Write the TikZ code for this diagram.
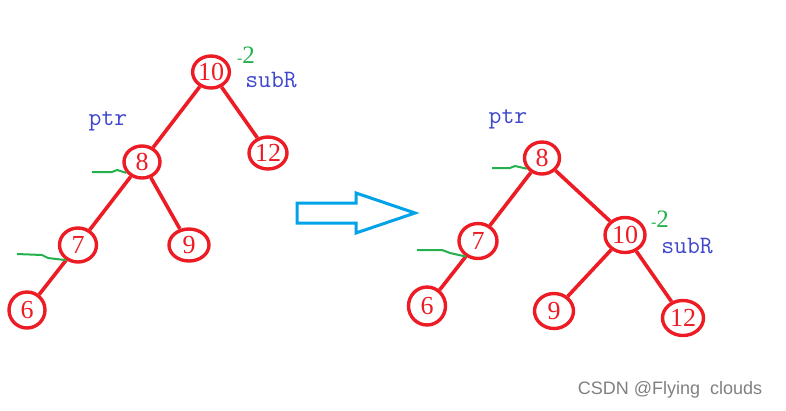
\documentclass[tikz,border=0pt]{standalone}
\usepackage{fontspec}
\setmainfont{Liberation Serif}
\newfontfamily\markfont{Liberation Sans}
\usepackage{xcolor}
\usetikzlibrary{shapes.geometric}

\definecolor{paintred}{RGB}{237,28,36}
\definecolor{paintblue}{RGB}{63,72,204}
\definecolor{paintgreen}{RGB}{34,177,76}
\definecolor{paintcyan}{RGB}{0,162,232}

\tikzset{
  nd/.style={ellipse, draw=paintred, line width=3.4pt, text=paintred, inner sep=0pt,
    minimum width=36pt, minimum height=32pt, font=\fontsize{26}{26}\selectfont},
  edge/.style={paintred, line width=3.6pt},
  hint/.style={paintgreen, line width=2pt},
  lbl/.style={paintblue, font=\ttfamily\fontsize{25}{25}\selectfont},
  bfac/.style={paintgreen, font=\fontsize{25}{25}\selectfont},
}

\begin{document}
\begin{tikzpicture}[x=1pt, y=-1pt]
      \useasboundingbox (0,0) rectangle (786,410);

      % before rotation
      \node[nd] (a10) at (211,72) {10};
      \node[nd] (a8) at (142,162) {8};
      \node[nd, minimum width=38pt] (a12) at (268,153) {12};
      \node[nd, minimum width=37pt, minimum height=34pt] (a7) at (78,245) {7};
      \node[nd, minimum width=40pt] (a9) at (189,245) {9};
      \node[nd, minimum height=36pt] (a6) at (27,310) {6};
      \draw[edge] (a10) -- (a8);
      \draw[edge] (a10) -- (a12);
      \draw[edge] (a8) -- (a7);
      \draw[edge] (a8) -- (a9);
      \draw[edge] (a7) -- (a6);
      \node[bfac] (abf) at (246,55) {{\fontsize{16}{16}\selectfont -}2};
      \node[lbl] (asub) at (271,80) {subR};
      \node[lbl] (aptr) at (108,121) {ptr};
      \coordinate (ag8) at (92,172);
      \coordinate (ag7) at (17,254);
      \draw[hint] (ag8) -- ++(20,0) -- ++(5,-2) -- (a8.215);
      \draw[hint] (ag7) -- ++(25,1) -- ++(6,3) -- (a7.232);

      % arrow
      \draw[paintcyan, line width=3pt] (297,203) -- (356,203) -- (356,193) -- (415,213)
        -- (356,233) -- (356,223) -- (297,223) -- cycle;

      % after rotation
      \node[nd, minimum width=35pt, minimum height=32pt] (b8) at (542,158) {8};
      \node[nd, minimum width=38pt, minimum height=35pt] (b7) at (478,241) {7};
      \node[nd, minimum width=40pt, minimum height=35pt] (b10) at (625,235) {10};
      \node[nd, minimum width=37pt, minimum height=38pt] (b6) at (427,306) {6};
      \node[nd, minimum width=39pt, minimum height=35pt] (b9) at (554,311) {9};
      \node[nd, minimum width=41pt, minimum height=35pt] (b12) at (683,318) {12};
      \draw[edge] (b8) -- (b7);
      \draw[edge] (b8) -- (b10);
      \draw[edge] (b7) -- (b6);
      \draw[edge] (b10) -- (b9);
      \draw[edge] (b10) -- (b12);
      \node[bfac] (bbf) at (660,219) {{\fontsize{16}{16}\selectfont -}2};
      \node[lbl] (bsub) at (687,246) {subR};
      \node[lbl] (bptr) at (508,119) {ptr};
      \coordinate (bg8) at (492,168);
      \coordinate (bg7) at (417,250);
      \draw[hint] (bg8) -- ++(18,0) -- ++(5,-2) -- (b8.215);
      \draw[hint] (bg7) -- ++(25,0) -- ++(8,3) -- (b7.232);

      % watermark
      \node[text=gray, font=\markfont\fontsize{18}{18}\selectfont] (wm) at (670,390) {CSDN @Flying~~clouds};
    \end{tikzpicture}
\end{document}
